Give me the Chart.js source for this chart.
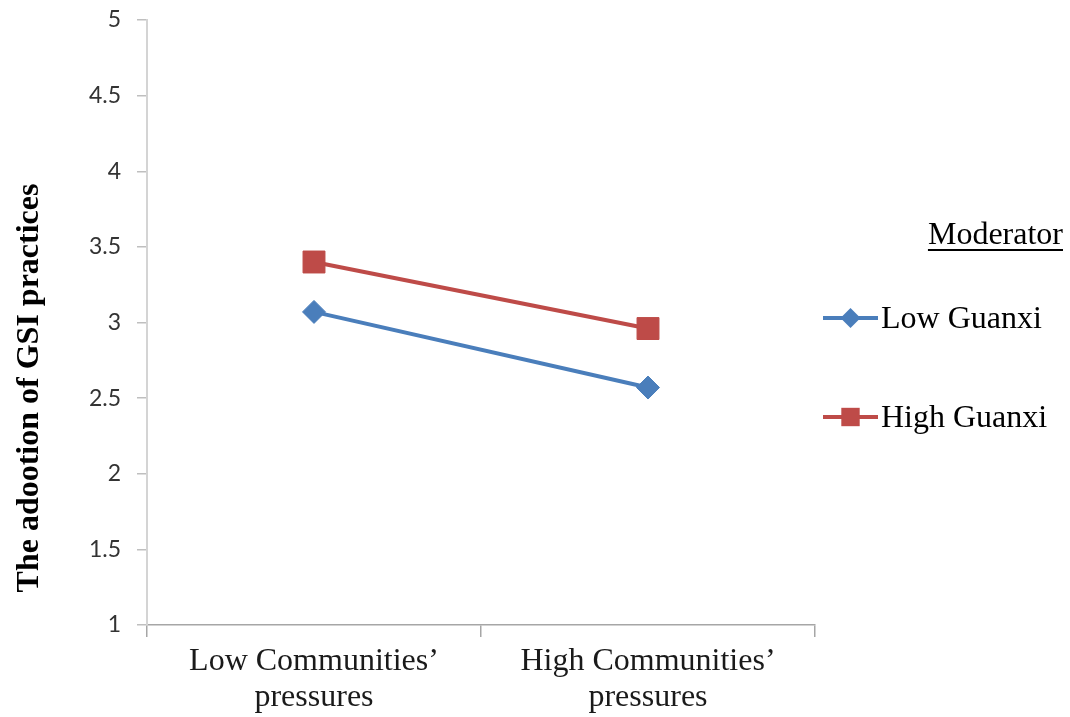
<!DOCTYPE html>
<html>
<head>
<meta charset="utf-8">
<script src="https://cdn.jsdelivr.net/npm/chart.js@4"></script>
<style>
  html, body { margin: 0; padding: 0; background: #ffffff; }
  #wrap { width: 1070px; height: 717px; }
</style>
</head>
<body>
<div id="wrap"><canvas id="c" width="1070" height="717"></canvas></div>
<script>
// Interaction of communities' pressures and guanxi on GSI adoption
const categories = [["Low Communities\u2019", "pressures"], ["High Communities\u2019", "pressures"]];
const lowGuanxi = [3.07, 2.57];
const highGuanxi = [3.40, 2.96];
const yMin = 1;
const yMax = 5;
const yStep = 0.5;
const legendTitle = "Moderator";
const yTitle = "The adootion of GSI practices";

const blue = "#4A7EBB";
const red = "#BE4B48";
const serif = "'Liberation Serif', 'DejaVu Serif', serif";

function marker(ctx, style, x, y, r) {
  ctx.beginPath();
  if (style === "rectRot") {
    ctx.moveTo(x - r, y);
    ctx.lineTo(x, y - r);
    ctx.lineTo(x + r, y);
    ctx.lineTo(x, y + r);
    ctx.closePath();
  } else {
    const s = Math.SQRT1_2 * r;
    ctx.rect(x - s, y - s, 2 * s, 2 * s);
  }
  ctx.fill();
}

// Y-axis title, the underlined legend heading and the legend entries
const sideText = {
  id: "sideText",
  afterDraw(chart) {
    const ctx = chart.ctx;
    const area = chart.chartArea;
    ctx.save();

    ctx.save();
    ctx.translate(30, area.top + 368);
    ctx.rotate(-Math.PI / 2);
    ctx.font = "bold 32px " + serif;
    ctx.fillStyle = "#000000";
    ctx.textAlign = "center";
    ctx.textBaseline = "middle";
    ctx.fillText(yTitle, 0, 0);
    ctx.restore();

    ctx.fillStyle = "#000000";
    ctx.font = "32px " + serif;
    ctx.textBaseline = "alphabetic";
    ctx.textAlign = "right";
    const titleRight = 1063;
    const titleBase = area.top + 224;
    ctx.fillText(legendTitle, titleRight, titleBase);
    const tw = ctx.measureText(legendTitle).width;
    ctx.fillRect(titleRight - tw, titleBase + 5, tw, 2);

    const x0 = area.right + 8;
    const x1 = area.right + 63;
    const rows = [area.top + 298, area.top + 397];
    chart.data.datasets.forEach((ds, i) => {
      const y = rows[i];
      ctx.strokeStyle = ds.borderColor;
      ctx.lineWidth = 4;
      ctx.beginPath();
      ctx.moveTo(x0, y);
      ctx.lineTo(x1, y);
      ctx.stroke();
      ctx.fillStyle = ds.pointBackgroundColor;
      marker(ctx, ds.pointStyle, (x0 + x1) / 2, y, ds.legendRadius);
      ctx.fillStyle = "#000000";
      ctx.textAlign = "left";
      ctx.textBaseline = "middle";
      ctx.font = "32px " + serif;
      ctx.fillText(ds.label, x1 + 3, y + 2);
    });
    ctx.restore();
  }
};

new Chart(document.getElementById("c"), {
  type: "line",
  data: {
    labels: categories,
    datasets: [
      {
        label: "Low Guanxi",
        data: lowGuanxi,
        borderColor: blue,
        backgroundColor: blue,
        pointBackgroundColor: blue,
        pointBorderColor: blue,
        borderWidth: 4,
        pointStyle: "rectRot",
        pointRadius: 11.5,
        pointHoverRadius: 11.5,
        pointBorderWidth: 1,
        legendRadius: 10,
        tension: 0
      },
      {
        label: "High Guanxi",
        data: highGuanxi,
        borderColor: red,
        backgroundColor: red,
        pointBackgroundColor: red,
        pointBorderColor: red,
        borderWidth: 4,
        pointStyle: "rect",
        pointRadius: 15.5,
        pointHoverRadius: 15.5,
        pointBorderWidth: 1,
        legendRadius: 13,
        tension: 0
      }
    ]
  },
  options: {
    responsive: false,
    animation: false,
    devicePixelRatio: 1,
    layout: { padding: { left: 0, right: 255, top: 20, bottom: 0 } },
    plugins: {
      legend: { display: false },
      tooltip: { enabled: false }
    },
    scales: {
      x: {
        offset: true,
        afterFit(scale) { scale.height = 92; scale.paddingLeft = 0; scale.paddingRight = 0; },
        grid: {
          offset: true,
          drawOnChartArea: false,
          drawTicks: true,
          tickLength: 12,
          color: "#A6A6A6",
          lineWidth: 1.5
        },
        border: { display: true, color: "#A6A6A6", width: 1.5 },
        ticks: {
          font: { family: serif, size: 32, lineHeight: 1.12 },
          color: "#1a1a1a",
          padding: 7,
          maxRotation: 0,
          autoSkip: false
        }
      },
      y: {
        min: yMin,
        max: yMax,
        afterFit(scale) { scale.width = 147; scale.paddingTop = 0; scale.paddingBottom = 0; },
        grid: {
          drawOnChartArea: false,
          drawTicks: true,
          tickLength: 10,
          color: "#BFBFBF",
          lineWidth: 1.5
        },
        border: { display: true, color: "#D4D4D4", width: 2 },
        ticks: {
          stepSize: yStep,
          font: { family: "Lato, 'Open Sans', sans-serif", size: 23 },
          color: "#333333",
          padding: 16,
          callback: (v) => String(v)
        }
      }
    }
  },
  plugins: [sideText]
});
</script>
</body>
</html>
